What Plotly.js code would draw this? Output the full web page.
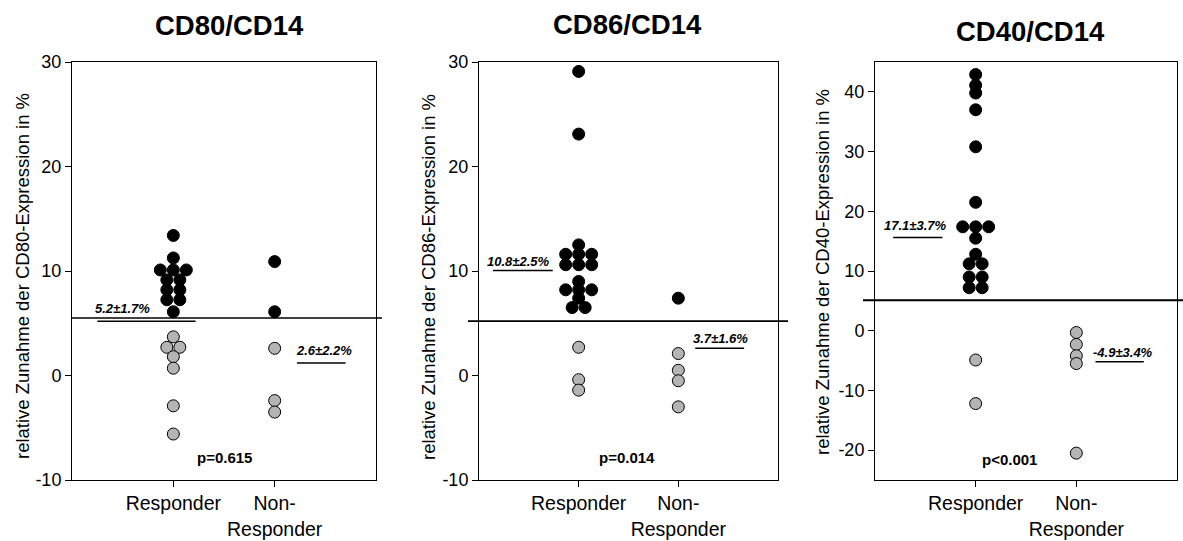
<!DOCTYPE html>
<html><head><meta charset="utf-8">
<script src="https://cdn.plot.ly/plotly-3.0.1.min.js"></script>
<style>html,body{margin:0;padding:0;background:#fff}#chart{width:1183px;height:541px}</style>
</head><body><div id="chart"></div>
<script>
// ---------- data ----------
const groups = ["Responder", "Non-Responder"];
const tickLabels = ["Responder", "Non-<br>Responder"];
const panelTitles = ["CD80/CD14", "CD86/CD14", "CD40/CD14"];
const yTitles = [
  "relative Zunahme der CD80-Expression in %",
  "relative Zunahme der CD86-Expression in %",
  "relative Zunahme der CD40-Expression in %"
];
const cd80Responder = [13.4, 11.25, 10.1, 10.1, 10.1, 9.15, 9.15, 8.2, 8.2, 7.25, 7.25, 6.1, 3.7, 2.7, 2.7, 1.8, 0.7, -2.9, -5.6];
const cd80NonResponder = [10.9, 6.1, 2.6, -2.4, -3.5];
const cd86Responder = [29.1, 23.1, 12.5, 11.6, 11.6, 11.6, 10.6, 10.6, 10.6, 9.0, 8.2, 8.2, 8.2, 7.4, 6.5, 6.5, 2.7, -0.4, -1.4];
const cd86NonResponder = [7.4, 2.1, 0.5, -0.5, -3.0];
const cd40Responder = [42.9, 41.1, 39.8, 37.0, 30.8, 21.5, 17.4, 17.4, 17.4, 15.5, 12.8, 11.2, 11.2, 9.0, 9.0, 7.2, 7.2, -4.9, -12.2];
const cd40NonResponder = [-0.3, -2.3, -4.2, -5.5, -20.5];
const thresholds = [5.5, 5.2, 5.1];
const meanLabels = [["5.2±1.7%", "2.6±2.2%"], ["10.8±2.5%", "3.7±1.6%"], ["17.1±3.7%", "-4.9±3.4%"]];
const meanBarLevels = [[5.2, 1.2], [10.05, 2.6], [15.6, -5.2]];
const pValues = ["p=0.615", "p=0.014", "p<0.001"];
const yTicks = [[-10, 0, 10, 20, 30], [-10, 0, 10, 20, 30], [-20, -10, 0, 10, 20, 30, 40]];

// ---------- layout config ----------
const W = 1183, H = 541;
const FONT = "Liberation Sans, Arial, Helvetica, sans-serif";
const panelX = [[72, 376], [479, 778], [875, 1177]];
const plotTop = 62, plotBottom = 480;
const yRanges = [[-10, 30], [-10, 30], [-25, 45]];
const xRange = [0, 3];
const lineSpan = [[72, 382], [468, 788], [863, 1183]];
const meanBarX = [[[0.25, 1.22], [2.22, 2.70]], [[0.14, 0.74], [2.17, 2.66]], [[0.18, 0.67], [2.19, 2.67]]];
const meanTextPos = [[[0.5, 6.4], [2.49, 2.4]], [[0.4, 10.9], [2.42, 3.5]], [[0.4, 17.7], [2.46, -3.7]]];
const pPos = [[1.5, -7.8], [1.48, -7.8], [1.34, -21.5]];
const titlePos = [[229, 26], [627, 24], [1030, 32]];
const yTitlePos = [[22, 276], [428, 277], [822, 272]];
const markerPx = 13;

const panelData = [[cd80Responder, cd80NonResponder], [cd86Responder, cd86NonResponder], [cd40Responder, cd40NonResponder]];

// binned dot placement: equal values spread side by side
function swarm(values, center, pxPerUnit) {
  const counts = {}, seen = {};
  values.forEach(v => counts[v] = (counts[v] || 0) + 1);
  return values.map(v => {
    const n = counts[v]; const k = (seen[v] = (seen[v] || 0) + 1) - 1;
    return center + (k - (n - 1) / 2) * markerPx / pxPerUnit;
  });
}

const traces = [], shapes = [], annotations = [];
const layout = {
  width: W, height: H, margin: {l: 0, r: 0, t: 0, b: 0},
  paper_bgcolor: "#fff", plot_bgcolor: "#fff", showlegend: false,
  font: {family: FONT, color: "#000"}
};

panelData.forEach((pd, i) => {
  const sfx = i === 0 ? "" : String(i + 1);
  const xa = "x" + sfx, ya = "y" + sfx;
  const dom = [panelX[i][0] / W, panelX[i][1] / W];
  const pxPerUnit = (panelX[i][1] - panelX[i][0]) / (xRange[1] - xRange[0]);
  layout["xaxis" + sfx] = {
    domain: dom, range: xRange, anchor: ya, tickvals: [1, 2], ticktext: tickLabels, tickangle: 0,
    showline: true, linecolor: "#000", linewidth: 1, mirror: true,
    ticks: "outside", ticklen: 6, tickcolor: "#000", showgrid: false, zeroline: false,
    tickfont: {size: 19.5, family: FONT, color: "#000"}, fixedrange: true
  };
  layout["yaxis" + sfx] = {
    domain: [1 - plotBottom / H, 1 - plotTop / H], range: yRanges[i], anchor: xa,
    tickvals: yTicks[i], ticktext: yTicks[i].map(v => String(v)),
    showline: true, linecolor: "#000", linewidth: 1, mirror: true,
    ticks: "outside", ticklen: 6, tickcolor: "#000", showgrid: false, zeroline: false,
    tickfont: {size: 18, family: FONT, color: "#000"}, fixedrange: true
  };
  pd.forEach((vals, g) => {
    traces.push({
      type: "scatter", mode: "markers", xaxis: xa, yaxis: ya, name: groups[g],
      x: swarm(vals, g + 1, pxPerUnit), y: vals,
      marker: {
        size: markerPx - 1,
        color: vals.map(v => v > thresholds[i] ? "#000" : "#b4b4b4"),
        line: {color: "#000", width: 1}
      },
      cliponaxis: false, hoverinfo: "y"
    });
    shapes.push({type: "line", xref: xa, yref: ya, x0: meanBarX[i][g][0], x1: meanBarX[i][g][1],
      y0: meanBarLevels[i][g], y1: meanBarLevels[i][g], line: {color: "#000", width: 1.5}});
    annotations.push({xref: xa, yref: ya, x: meanTextPos[i][g][0], y: meanTextPos[i][g][1],
      text: "<b><i>" + meanLabels[i][g] + "</i></b>", showarrow: false,
      font: {size: 13, family: FONT, color: "#000"}});
  });
  shapes.push({type: "line", xref: "paper", yref: ya, x0: lineSpan[i][0] / W, x1: lineSpan[i][1] / W,
    y0: thresholds[i], y1: thresholds[i], line: {color: "#000", width: i === 2 ? 2 : 1.6}});
  annotations.push({xref: xa, yref: ya, x: pPos[i][0], y: pPos[i][1], text: "<b>" + pValues[i] + "</b>",
    showarrow: false, font: {size: 15, family: FONT, color: "#000"}});
  annotations.push({xref: "paper", yref: "paper", x: titlePos[i][0] / W, y: 1 - titlePos[i][1] / H,
    text: "<b>" + panelTitles[i] + "</b>", showarrow: false, xanchor: "center", yanchor: "middle",
    font: {size: 27.5, family: FONT, color: "#000"}});
  annotations.push({xref: "paper", yref: "paper", x: yTitlePos[i][0] / W, y: 1 - yTitlePos[i][1] / H,
    text: yTitles[i], textangle: -90, showarrow: false, xanchor: "center", yanchor: "middle",
    font: {size: 18.5, family: FONT, color: "#000"}});
});

layout.shapes = shapes;
layout.annotations = annotations;
Plotly.newPlot("chart", traces, layout, {displayModeBar: false, staticPlot: true});
</script></body></html>
